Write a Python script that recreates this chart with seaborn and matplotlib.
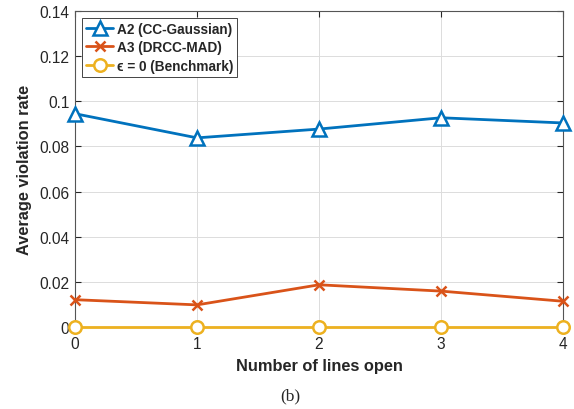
import matplotlib
matplotlib.use("Agg")
import matplotlib.pyplot as plt
import seaborn as sns
import pandas as pd

# data
lines_open = [0, 1, 2, 3, 4]
a2_cc_gaussian = [0.0945, 0.0838, 0.0877, 0.0927, 0.0904]
a3_drcc_mad = [0.0121, 0.0098, 0.0187, 0.0159, 0.0114]
benchmark = [0, 0, 0, 0, 0]
series_labels = ["A2 (CC-Gaussian)", "A3 (DRCC-MAD)", "\u03f5 = 0 (Benchmark)"]
yticks = [0, 0.02, 0.04, 0.06, 0.08, 0.1, 0.12, 0.14]
ytick_labels = ["0", "0.02", "0.04", "0.06", "0.08", "0.1", "0.12", "0.14"]

df = pd.DataFrame({"x": lines_open, "a2": a2_cc_gaussian, "a3": a3_drcc_mad, "bench": benchmark})

sns.set_style("ticks")
plt.rcParams["font.family"] = ["Liberation Sans", "DejaVu Sans"]

fig = plt.figure(figsize=(5.74, 4.10), dpi=100)
ax = fig.add_axes([0.1307, 0.2, 0.8503, 0.7707])

styles = [
    ("a2", "#0072BD", "^", 10.5),
    ("a3", "#D95319", "x", 7),
    ("bench", "#EDB120", "o", 9),
]
for (col, color, mk, ms), lab in zip(styles, series_labels):
    sns.lineplot(data=df, x="x", y=col, ax=ax, color=color, marker=mk, markersize=ms,
                 markerfacecolor="white" if mk != "x" else color, markeredgecolor=color,
                 markeredgewidth=1.8, linewidth=2, label=lab, clip_on=False, zorder=3)

ax.set_xlim(0, 4)
ax.set_ylim(0, 0.14)
ax.set_xticks(lines_open)
ax.set_xticklabels([str(v) for v in lines_open])
ax.set_yticks(yticks)
ax.set_yticklabels(ytick_labels)
ax.grid(True, color="#dcdcdc", linewidth=0.7)
ax.set_axisbelow(True)
for s in ax.spines.values():
    s.set_visible(True)
    s.set_color("#555555")
    s.set_linewidth(0.8)
ax.tick_params(direction="in", length=4, width=0.8, colors="#262626", labelsize=11.2,
               top=True, right=True)
ax.tick_params(axis="x", pad=6.5)
ax.tick_params(axis="y", pad=4)
ax.set_xlabel("Number of lines open", fontsize=11.8, fontweight="bold", color="#262626", labelpad=5)
ax.set_ylabel("Average violation rate", fontsize=11.8, fontweight="bold", color="#262626", labelpad=5)

leg = ax.legend(loc="upper left", fontsize=9.8, frameon=True, fancybox=False,
                edgecolor="#262626", framealpha=1, handlelength=2.0, borderpad=0.3,
                labelspacing=0.32, handletextpad=0.25, borderaxespad=0.5)
leg.get_frame().set_linewidth(0.6)
for t in leg.get_texts():
    t.set_fontweight("bold")

fig.text(0.505, 0.034, "(b)", fontsize=12.5, family="Liberation Serif", ha="center", va="center")

fig.savefig("out.png", dpi=100)
